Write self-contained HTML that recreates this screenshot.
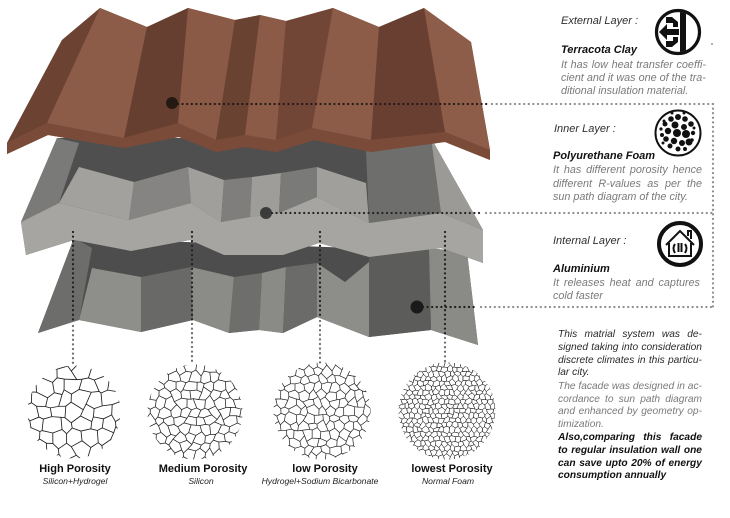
<!DOCTYPE html>
<html><head><meta charset="utf-8">
<style>
html,body{margin:0;padding:0;}
body{width:730px;height:518px;background:#fff;position:relative;overflow:hidden;font-family:"Liberation Sans",Arial,sans-serif;}
svg{position:absolute;left:0;top:0;}
.t{position:absolute;white-space:nowrap;font-style:italic;font-size:10.8px;line-height:13px;}
.j{display:flex;justify-content:space-between;}
.h{color:#2e2e2e;font-size:11px;}
.b{font-weight:bold;color:#111;font-size:11px;}
.g{color:#7a7a7a;}
.p{font-size:10.2px;line-height:12.8px;}
.pd{color:#2a2a2a;}
.pg{color:#7a7a7a;}
.pb{color:#111;font-weight:bold;}
.lab{position:absolute;width:140px;text-align:center;font-weight:bold;font-size:11px;line-height:13px;color:#111;}
.sub{position:absolute;width:160px;text-align:center;font-style:italic;font-size:8.6px;line-height:10px;color:#222;}
</style></head>
<body>
<svg id="main" width="730" height="518" viewBox="0 0 730 518" xmlns="http://www.w3.org/2000/svg">
<defs id="defs">
<clipPath id="ic1"><circle cx="678" cy="32" r="20"/></clipPath>
</defs>

<!-- Bottom layer (aluminium) -->
<polygon points="74,238 467,252 478,345 431,330 369,337 317,317 283,333 259,330 229,333 193,320 141,332 79,320 38,333" fill="#4d4d4d"/>
<polygon points="74,238 92,248 79,320 38,333" fill="#6d6d6b"/>
<polygon points="92,268 141,277 141,332 79,320" fill="#8e8e8a"/>
<polygon points="141,277 191,267 193,320 141,332" fill="#696967"/>
<polygon points="191,267 234,277 229,333 193,320" fill="#8b8b87"/>
<polygon points="234,277 262,273 259,330 229,333" fill="#6e6e6c"/>
<polygon points="262,273 286,267 283,333 259,330" fill="#8a8a86"/>
<polygon points="286,267 317,263 317,317 283,333" fill="#6b6b69"/>
<polygon points="317,263 345,282 369,262 369,337 317,317" fill="#8d8d89"/>
<polygon points="369,257 429,248 431,330 369,337" fill="#5c5c5a"/>
<polygon points="429,248 467,252 478,345 431,330" fill="#8a8a86"/>

<!-- Middle layer (foam) -->
<polygon points="57,138 431,138 483,230 483,263 441,248 369,257 319,243 283,255 224,255 190,240 131,251 74,240 26,255 21,222" fill="#4f4f4f"/>
<polygon points="57,138 79,143 59,203 21,222" fill="#7a7a78"/>
<polygon points="79,167 134,182 129,220 59,203" fill="#a2a19d"/>
<polygon points="134,182 188,167 191,203 129,220" fill="#858482"/>
<polygon points="188,167 224,180 221,222 191,203" fill="#a09f9b"/>
<polygon points="224,180 252,177 250,217 221,222" fill="#7f7e7c"/>
<polygon points="252,177 281,173 279,213 250,217" fill="#9e9d99"/>
<polygon points="281,173 317,167 317,197 279,213" fill="#7a7a78"/>
<polygon points="317,167 366,183 369,223 317,197" fill="#a09f9b"/>
<polygon points="366,150 431,138 441,213 369,223" fill="#6e6e6c"/>
<polygon points="431,138 483,230 441,213" fill="#9b9a96"/>
<polygon points="21,222 59,203 129,220 191,203 221,222 250,217 279,213 317,197 369,223 441,213 483,230 483,263 441,248 369,257 319,243 283,255 224,255 190,240 131,251 74,240 26,255" fill="#a6a5a1"/>

<!-- Top layer (terracotta) -->
<polygon points="62,40 100,8 147,27 188,8 235,20 260,15 286,21 333,8 379,27 424,8 471,42 490,150 490,160 445,142 371,152 314,140 276,152 245,147 216,152 179,137 124,148 48,135 7,154 7,143" fill="#7b4b39"/>
<polygon points="62,40 100,8 47,123 7,143" fill="#6c4333"/>
<polygon points="100,8 147,27 124,138 47,123" fill="#8d5c48"/>
<polygon points="147,27 188,8 178,123 124,138" fill="#673f30"/>
<polygon points="188,8 235,20 216,140 178,123" fill="#8a5a46"/>
<polygon points="235,20 260,15 245,135 216,140" fill="#6a4232"/>
<polygon points="260,15 286,21 276,140 245,135" fill="#8b5b47"/>
<polygon points="286,21 333,8 312,128 276,140" fill="#714637"/>
<polygon points="333,8 379,27 371,140 312,128" fill="#8c5c48"/>
<polygon points="379,27 424,8 445,132 371,140" fill="#683f30"/>
<polygon points="424,8 471,42 490,150 445,132" fill="#8e5d49"/>
<polygon points="7,143 47,123 124,138 178,123 216,140 245,135 276,140 312,128 371,140 445,132 490,150 490,160 445,142 371,152 314,140 276,152 245,147 216,152 179,137 124,148 48,135 7,154" fill="#7b4b39"/>

<!-- dotted connectors -->
<g fill="none" stroke-linecap="round" stroke-width="2.3" stroke-dasharray="0 4.6">
<line x1="178" y1="104" x2="490" y2="104" stroke="#241a16"/>
<line x1="492" y1="104" x2="713" y2="104" stroke="#8f8f8f"/>
<line x1="713" y1="104" x2="713" y2="307" stroke="#8f8f8f"/>
<line x1="272" y1="213" x2="483" y2="213" stroke="#262626"/>
<line x1="486" y1="213" x2="713" y2="213" stroke="#8f8f8f"/>
<line x1="423" y1="307" x2="478" y2="307" stroke="#1e1e1e"/>
<line x1="481" y1="307" x2="713" y2="307" stroke="#8f8f8f"/>
<line x1="73" y1="232" x2="73" y2="322" stroke="#222"/>
<line x1="73" y1="326" x2="73" y2="364" stroke="#6f6f6f"/>
<line x1="192" y1="232" x2="192" y2="320" stroke="#222"/>
<line x1="192" y1="324" x2="192" y2="364" stroke="#6f6f6f"/>
<line x1="320" y1="232" x2="320" y2="317" stroke="#222"/>
<line x1="320" y1="321" x2="320" y2="364" stroke="#6f6f6f"/>
<line x1="445" y1="232" x2="445" y2="334" stroke="#222"/>
<line x1="445" y1="338" x2="445" y2="364" stroke="#6f6f6f"/>
</g>
<circle cx="172" cy="103" r="6" fill="#1c1410" fill-opacity="0.88"/>
<circle cx="266" cy="213" r="6" fill="#262626" fill-opacity="0.82"/>
<circle cx="417" cy="307" r="6.5" fill="#1a1a1a"/>

<!-- porosity circle fallbacks -->
<circle id="fb0" cx="74" cy="412" r="45" fill="#d4d4d4"/>
<circle id="fb1" cx="195" cy="412" r="46" fill="#cfcfcf"/>
<circle id="fb2" cx="322" cy="411" r="47" fill="#cbcbcb"/>
<circle id="fb3" cx="447" cy="411" r="47" fill="#bdbdbd"/>

<!-- Icon 1: external layer -->
<circle cx="678" cy="32" r="21.5" fill="#fff" stroke="#111" stroke-width="3.2"/>
<g clip-path="url(#ic1)" fill="#111">
<rect x="680" y="8" width="6" height="50"/>
<polygon points="659,32 667,24 667,29 679,29 679,35 667,35 667,40"/>
<polygon points="666,17 672,17 678,22 678,27 673,27 673,23 666,23"/>
<polygon points="666,47 672,47 678,42 678,37 673,37 673,41 666,41"/>
</g>
<circle cx="712" cy="44" r="0.9" fill="#777"/>

<!-- Icon 2: polyurethane foam -->
<circle cx="678" cy="133" r="22.5" fill="#fff" stroke="#111" stroke-width="2"/>
<g fill="#111">
<circle cx="678" cy="117" r="3"/><circle cx="671" cy="119" r="2.8"/><circle cx="685" cy="119" r="2.8"/>
<circle cx="665" cy="124" r="2.5"/><circle cx="691" cy="124" r="2.8"/><circle cx="675" cy="125" r="3.5"/>
<circle cx="684" cy="127" r="3"/><circle cx="668" cy="131" r="3.2"/><circle cx="677" cy="133" r="4"/>
<circle cx="686" cy="134" r="4"/><circle cx="693" cy="133" r="2.2"/><circle cx="662" cy="135" r="2"/>
<circle cx="666" cy="139" r="2.8"/><circle cx="674" cy="141" r="3.2"/><circle cx="682" cy="143" r="3"/>
<circle cx="689" cy="142" r="3.5"/><circle cx="670" cy="146" r="2.5"/><circle cx="678" cy="149" r="2.5"/>
<circle cx="685" cy="149" r="2"/><circle cx="664" cy="121" r="1.5"/><circle cx="692" cy="140" r="1.8"/>
<circle cx="661" cy="129" r="1.6"/><circle cx="694" cy="128" r="1.5"/><circle cx="672" cy="113" r="1.5"/>
<circle cx="684" cy="113" r="1.5"/><circle cx="663" cy="143" r="1.5"/>
</g>

<!-- Icon 3: aluminium / house -->
<circle cx="680" cy="244" r="21" fill="#fff" stroke="#111" stroke-width="4"/>
<g fill="none" stroke="#111" stroke-width="2" stroke-linejoin="miter">
<path d="M666,245 L680,231 L694,245"/>
<path d="M669,243 V256 H691 V243"/>
<path d="M688,236 V231 H691 V239"/>
<path d="M675,244 q-3,4 0,9"/>
<path d="M678.5,243 v9"/>
<path d="M681.5,243 v9"/>
<path d="M685,244 q3,4 0,9"/>
</g>
</svg>

<!-- Section 1 -->
<div class="t h" style="left:561px;top:15px;">External Layer :</div>
<div class="t b" style="left:561px;top:44px;">Terracota Clay</div>
<div class="t g j" style="left:561px;top:59px;width:145px;"><span>It</span><span>has</span><span>low</span><span>heat</span><span>transfer</span><span>coeffi-</span></div>
<div class="t g j" style="left:561px;top:72px;width:145px;"><span>cient</span><span>and</span><span>it</span><span>was</span><span>one</span><span>of</span><span>the</span><span>tra-</span></div>
<div class="t g" style="left:561px;top:85px;">ditional insulation material.</div>

<!-- Section 2 -->
<div class="t h" style="left:554px;top:123px;">Inner Layer :</div>
<div class="t b" style="left:553px;top:150px;">Polyurethane Foam</div>
<div class="t g j" style="left:553px;top:164px;width:149px;"><span>It</span><span>has</span><span>different</span><span>porosity</span><span>hence</span></div>
<div class="t g j" style="left:553px;top:178px;width:149px;"><span>different</span><span>R-values</span><span>as</span><span>per</span><span>the</span></div>
<div class="t g" style="left:553px;top:191px;">sun path diagram of the city.</div>

<!-- Section 3 -->
<div class="t h" style="left:553px;top:235px;">Internal Layer :</div>
<div class="t b" style="left:553px;top:263px;">Aluminium</div>
<div class="t g j" style="left:553px;top:277px;width:147px;"><span>It</span><span>releases</span><span>heat</span><span>and</span><span>captures</span></div>
<div class="t g" style="left:553px;top:290px;">cold faster</div>

<!-- Paragraph -->
<div class="t p pd j" style="left:558px;top:329px;width:144px;"><span>This</span><span>matrial</span><span>system</span><span>was</span><span>de-</span></div>
<div class="t p pd j" style="left:558px;top:342px;width:144px;"><span>signed</span><span>taking</span><span>into</span><span>consideration</span></div>
<div class="t p pd j" style="left:558px;top:355px;width:144px;"><span>discrete</span><span>climates</span><span>in</span><span>this</span><span>particu-</span></div>
<div class="t p pd" style="left:558px;top:367px;">lar city.</div>
<div class="t p pg j" style="left:558px;top:381px;width:144px;"><span>The</span><span>facade</span><span>was</span><span>designed</span><span>in</span><span>ac-</span></div>
<div class="t p pg j" style="left:558px;top:394px;width:144px;"><span>cordance</span><span>to</span><span>sun</span><span>path</span><span>diagram</span></div>
<div class="t p pg j" style="left:558px;top:406px;width:144px;"><span>and</span><span>enhanced</span><span>by</span><span>geometry</span><span>op-</span></div>
<div class="t p pg" style="left:558px;top:419px;">timization.</div>
<div class="t p pb j" style="left:558px;top:432px;width:144px;"><span>Also,comparing</span><span>this</span><span>facade</span></div>
<div class="t p pb j" style="left:558px;top:445px;width:144px;"><span>to</span><span>regular</span><span>insulation</span><span>wall</span><span>one</span></div>
<div class="t p pb j" style="left:558px;top:458px;width:144px;"><span>can</span><span>save</span><span>upto</span><span>20%</span><span>of</span><span>energy</span></div>
<div class="t p pb" style="left:558px;top:470px;">consumption annually</div>

<!-- Porosity labels -->
<div class="lab" style="left:5px;top:463px;">High Porosity</div>
<div class="sub" style="left:-5px;top:476px;">Silicon+Hydrogel</div>
<div class="lab" style="left:133px;top:463px;">Medium Porosity</div>
<div class="sub" style="left:121px;top:476px;">Silicon</div>
<div class="lab" style="left:255px;top:463px;">low Porosity</div>
<div class="sub" style="left:240px;top:476px;">Hydrogel+Sodium Bicarbonate</div>
<div class="lab" style="left:382px;top:463px;">lowest Porosity</div>
<div class="sub" style="left:368px;top:476px;">Normal Foam</div>

<script>
(function(){
 var NS="http://www.w3.org/2000/svg";
 var svg=document.getElementById('main');
 var defs=document.getElementById('defs');
 var specs=[[74,412,45,8.5,1,0.85],[195,412,46,5.8,2,0.75],[322,411,47,5.2,3,0.7],[447,411,47,3.1,4,0.5]];
 specs.forEach(function(s,idx){
   var cx=s[0],cy=s[1],R=s[2],r=s[3],seed=s[4],sw=s[5];
   var cp=document.createElementNS(NS,'clipPath'); cp.setAttribute('id','cp'+idx);
   var c=document.createElementNS(NS,'circle'); c.setAttribute('cx',cx); c.setAttribute('cy',cy); c.setAttribute('r',R+1.5);
   cp.appendChild(c); defs.appendChild(cp);
   var w=Math.sqrt(3)*r,h=1.5*r,d='';
   function jit(x,y,k){var v=Math.sin(Math.round(x*2)*12.9898+Math.round(y*2)*78.233+seed*37.7+k*11.3)*43758.5453;return v-Math.floor(v)-0.5;}
   var nj=Math.ceil(R/h)+2,ni=Math.ceil(R/w)+2;
   for(var j=-nj;j<=nj;j++){for(var i=-ni;i<=ni;i++){
     var x=cx+i*w+((j&1)?w/2:0),y=cy+j*h;
     if(Math.sqrt((x-cx)*(x-cx)+(y-cy)*(y-cy))>R+r)continue;
     var p=[];
     for(var k=0;k<6;k++){var a=Math.PI/180*(60*k-90);var vx=x+r*Math.cos(a),vy=y+r*Math.sin(a);
       p.push((vx+jit(vx,vy,1)*r*0.75).toFixed(2)+','+(vy+jit(vx,vy,2)*r*0.75).toFixed(2));}
     d+='M'+p.join('L')+'Z';
   }}
   var path=document.createElementNS(NS,'path'); path.setAttribute('d',d); path.setAttribute('fill','none');
   path.setAttribute('stroke','#1e1e1e'); path.setAttribute('stroke-width',sw); path.setAttribute('stroke-linejoin','round');
   path.setAttribute('clip-path','url(#cp'+idx+')');
   svg.appendChild(path);
   var fb=document.getElementById('fb'+idx); if(fb) fb.setAttribute('fill','none');
 });
})();
</script>
</body></html>
